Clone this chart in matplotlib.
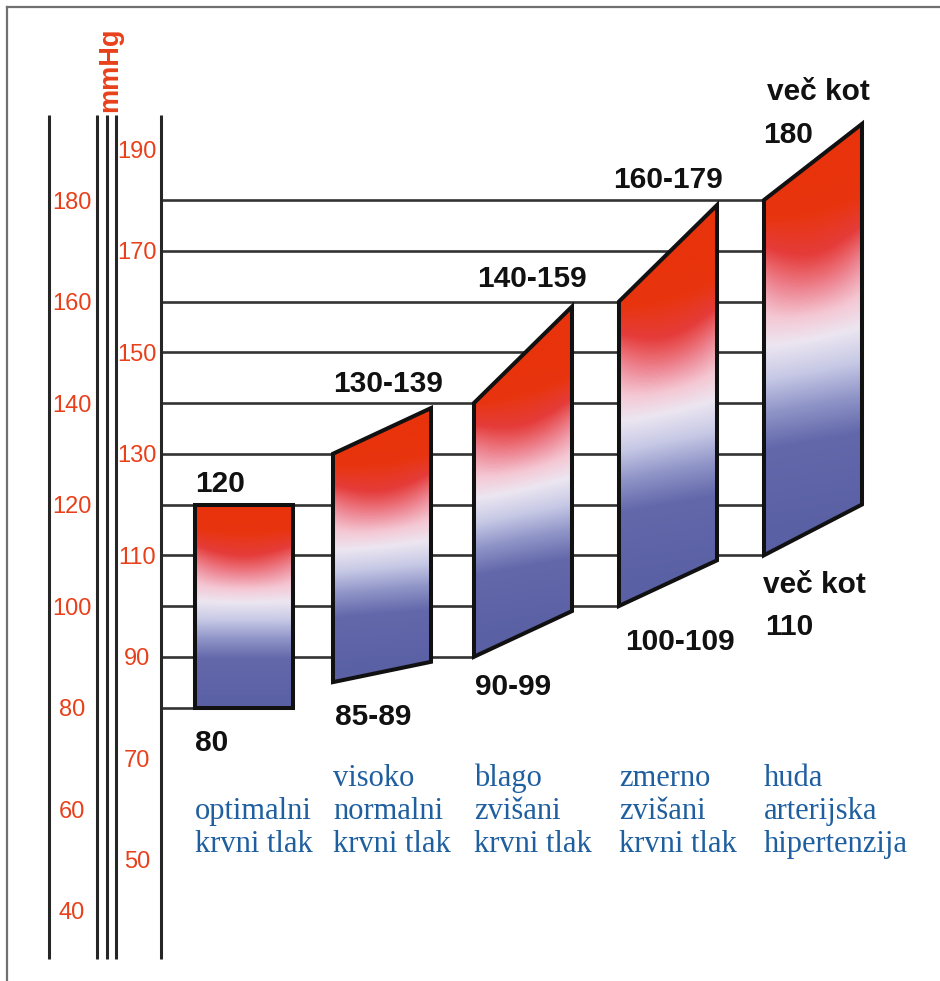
import numpy as np
import matplotlib
matplotlib.use("Agg")
import matplotlib.pyplot as plt
from matplotlib.patches import Polygon
from matplotlib.colors import LinearSegmentedColormap
from matplotlib.lines import Line2D

# ---------------- data ----------------
categories = [
    ["optimalni", "krvni tlak"],
    ["visoko", "normalni", "krvni tlak"],
    ["blago", "zvišani", "krvni tlak"],
    ["zmerno", "zvišani", "krvni tlak"],
    ["huda", "arterijska", "hipertenzija"],
]
# left edge of each band spans diastolic_low..systolic_low,
# right edge spans diastolic_high..systolic_high (mmHg)
systolic_low = [120, 130, 140, 160, 180]
systolic_high = [120, 139, 159, 179, 195]
diastolic_low = [80, 85, 90, 100, 110]
diastolic_high = [80, 89, 99, 109, 120]
top_labels = [["120"], ["130-139"], ["140-159"], ["160-179"], ["več kot", "180"]]
bottom_labels = [["80"], ["85-89"], ["90-99"], ["100-109"], ["več kot", "110"]]
left_ticks = [40, 60, 80, 100, 120, 140, 160, 180]
right_ticks = [50, 70, 90, 110, 130, 150, 170, 190]
grid_levels = [80, 90, 100, 110, 120, 130, 140, 150, 160, 170, 180]
unit_label = "mmHg"

# ---------------- layout ----------------
W, H = 940, 981
Y_TOP, Y_BOT = 219.41, 26.11          # mmHg at top / bottom edge of canvas


def py(p):
    """canvas row (px from top) -> mmHg coordinate"""
    return Y_TOP - p / H * (Y_TOP - Y_BOT)


PX = (Y_TOP - Y_BOT) / H             # mmHg per pixel row

bar_left = [195, 333, 474, 619, 764]
bar_width = 98
scale_lines_x = [49, 97, 107, 116, 161]
grid_x0 = 161

top_label_pos = [[(195, 492)], [(333, 392)], [(477, 287)], [(613, 188)],
                 [(767, 100), (763, 143)]]
bottom_label_pos = [[(195, 751)], [(335, 725)], [(475, 695)], [(625, 650)],
                    [(763, 593), (765, 635)]]
cat_x = [195, 333, 474, 619, 764]
cat_baselines3 = [786, 819, 852]

RED = "#e8401a"
BLUE_TXT = "#1f5f9f"
LINE = "#262626"

fig = plt.figure(figsize=(W / 100, H / 100), dpi=100)
ax = fig.add_axes([0, 0, 1, 1])
ax.set_xlim(0, W)
ax.set_ylim(Y_BOT, Y_TOP)
ax.axis("off")

# frame (top and left edges)
fig.add_artist(Line2D([6.5 / W, 1], [1 - 6.5 / H, 1 - 6.5 / H], color="#707070",
                      lw=1.6, transform=fig.transFigure))
fig.add_artist(Line2D([6.5 / W, 6.5 / W], [0, 1 - 6.5 / H], color="#707070",
                      lw=1.6, transform=fig.transFigure))

# vertical scale bars
for x in scale_lines_x:
    ax.plot([x, x], [py(959), py(115)], color=LINE, lw=2.2, solid_capstyle="butt", zorder=2)

# horizontal reference lines: each runs to the last band that starts at or below it
for lv in grid_levels:
    idx = max(i for i, d in enumerate(diastolic_low) if d <= lv)
    ax.plot([grid_x0, bar_left[idx]], [lv, lv], color="#333333", lw=1.9,
            solid_capstyle="butt", zorder=1)

# tick labels
for v in left_ticks:
    ax.text(72, v - 8.5 * PX, str(v), ha="center", va="baseline", color=RED,
            fontsize=17, family="Liberation Sans")
for v in right_ticks:
    ax.text(137, v - 8.5 * PX, str(v), ha="center", va="baseline", color=RED,
            fontsize=17, family="Liberation Sans")
ax.text(110, py(70), unit_label, rotation=90, ha="center", va="center", color=RED,
        fontsize=19.5, family="Liberation Sans", fontweight="bold")

# gradient colormap red -> white -> blue
cmap = LinearSegmentedColormap.from_list("bp", [
    (0.00, "#e8330c"),
    (0.13, "#e8350f"),
    (0.23, "#e53c3a"),
    (0.33, "#ee8794"),
    (0.41, "#f4c8d4"),
    (0.48, "#ece6f1"),
    (0.57, "#c6c8e5"),
    (0.66, "#9095c8"),
    (0.76, "#6268aa"),
    (1.00, "#5a60a4"),
])

for i in range(len(categories)):
    xl = bar_left[i]
    xr = xl + bar_width
    lt, lb = systolic_low[i], diastolic_low[i]
    rt, rb = systolic_high[i], diastolic_high[i]
    ymin, ymax = min(lb, rb), max(lt, rt)
    xs = np.linspace(xl, xr, 200)
    ys = np.linspace(ymin, ymax, 400)
    X, Y = np.meshgrid(xs, ys)
    xn = (X - xl) / (xr - xl)
    top = lt + (rt - lt) * xn
    bot = lb + (rb - lb) * xn
    t = (top - Y) / (top - bot)
    mt, mb = (lt + rt) / 2, (lb + rb) / 2
    tv = (mt - Y) / (mt - mb)
    te = 0.3 * t + 0.7 * tv
    # rounded red core: the red reaches a little deeper near the middle
    te = te + 0.06 * ((2 * xn - 1) ** 2 - 0.33) * np.exp(-((te - 0.28) / 0.14) ** 2)
    te = np.clip(te, 0, 1)
    img = cmap(te)
    poly = Polygon([(xl, lb), (xl, lt), (xr, rt), (xr, rb)], closed=True,
                   facecolor="none", edgecolor="#111111", lw=2.9, joinstyle="miter", zorder=4)
    ax.add_patch(poly)
    im = ax.imshow(img, extent=(xl, xr, ymin, ymax), origin="lower", aspect="auto",
                   interpolation="bilinear", zorder=3)
    im.set_clip_path(poly)

    for txt, (x, yb) in zip(top_labels[i], top_label_pos[i]):
        ax.text(x, py(yb), txt, ha="left", va="baseline", fontsize=21.5,
                fontweight="bold", family="Liberation Sans", color="#111111")
    for txt, (x, yb) in zip(bottom_labels[i], bottom_label_pos[i]):
        ax.text(x, py(yb), txt, ha="left", va="baseline", fontsize=21.5,
                fontweight="bold", family="Liberation Sans", color="#111111")

    lines = categories[i]
    base = cat_baselines3[3 - len(lines):]
    for txt, yb in zip(lines, base):
        ax.text(cat_x[i], py(yb), txt, ha="left", va="baseline", fontsize=22,
                family="Liberation Serif", color=BLUE_TXT)

ax.set_xlim(0, W)
ax.set_ylim(Y_BOT, Y_TOP)
fig.savefig("out.png", dpi=100)
